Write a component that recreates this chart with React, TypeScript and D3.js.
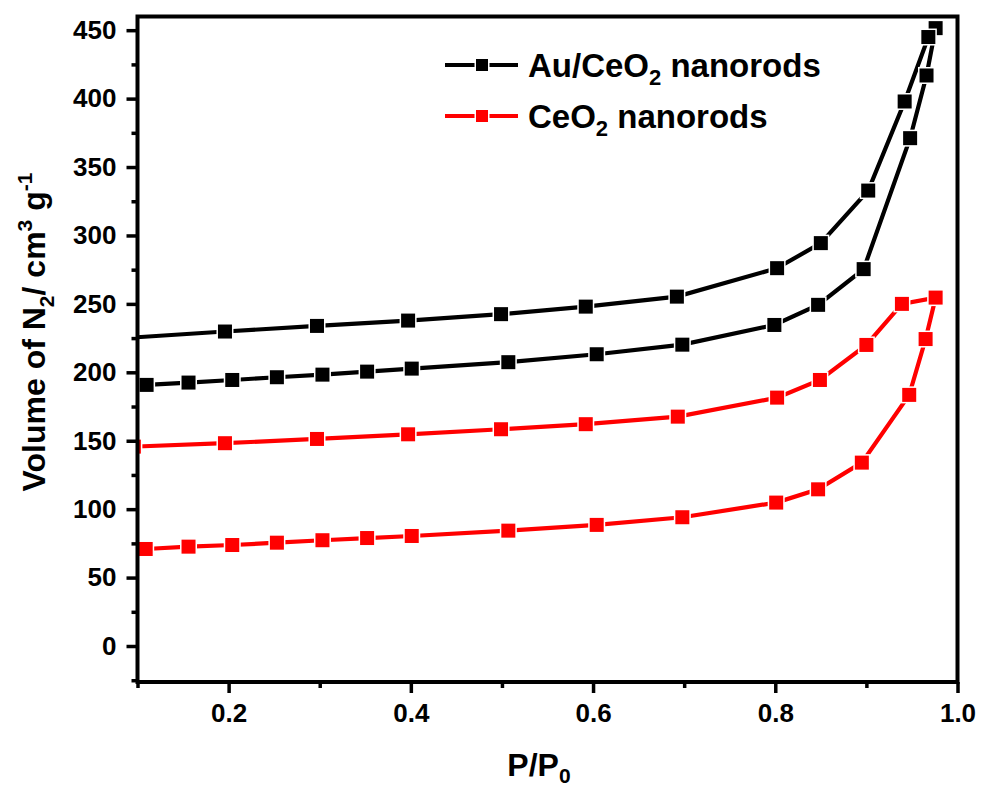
import { useEffect, useRef } from 'react';
import * as d3 from 'd3';

// Au/CeO2 nanorods - adsorption then desorption branch
const auAdsX = [0.11, 0.156, 0.204, 0.253, 0.303, 0.352, 0.401, 0.507, 0.604, 0.698, 0.799, 0.847, 0.897, 0.948, 0.966, 0.976];
const auAdsY = [190.8, 192.5, 194.4, 196.4, 198.3, 200.5, 202.7, 207.4, 213.2, 220.2, 234.6, 249.3, 275.4, 371.1, 416.9, 451.5];
const auDesX = [0.968, 0.942, 0.902, 0.85, 0.802, 0.692, 0.592, 0.499, 0.397, 0.297, 0.196, 0.09];
const auDesY = [445.0, 397.9, 332.8, 294.4, 276.1, 255.3, 248.0, 242.5, 237.8, 233.9, 229.8, 225.2];

// CeO2 nanorods
const ceAdsX = [0.109, 0.156, 0.204, 0.253, 0.303, 0.352, 0.401, 0.507, 0.604, 0.698, 0.801, 0.847, 0.895, 0.947, 0.965, 0.976];
const ceAdsY = [70.9, 72.6, 73.8, 75.5, 77.3, 78.9, 80.4, 84.3, 88.5, 94.1, 104.8, 114.5, 134.0, 183.5, 224.3, 254.6];
const ceDesX = [0.939, 0.9, 0.849, 0.802, 0.693, 0.592, 0.499, 0.397, 0.297, 0.196, 0.096];
const ceDesY = [250.0, 220.0, 194.4, 181.5, 167.6, 162.1, 158.4, 154.7, 151.3, 148.2, 145.7];

const xTicks = [0.2, 0.4, 0.6, 0.8, 1.0];
const xMinor = [0.1, 0.3, 0.5, 0.7, 0.9];
const yTicks = [0, 50, 100, 150, 200, 250, 300, 350, 400, 450];
const yMinor = [-25, 25, 75, 125, 175, 225, 275, 325, 375, 425];

const FONT = 'Arial, "Liberation Sans", sans-serif';

export default function App() {
    const ref = useRef(null);

    useEffect(() => {
        const svg = d3.select(ref.current);
        svg.selectAll('*').remove();

        const [left, right, top, bottom] = [137.5, 957.5, 16.5, 682];

        const x = d3.scaleLinear().domain([0.1, 1.0]).range([left, right]);
        const y = d3.scaleLinear().domain([-26.3, 460]).range([bottom, top]);

        svg.append('defs')
            .append('clipPath')
            .attr('id', 'plot-clip')
            .append('rect')
            .attr('x', left)
            .attr('y', top)
            .attr('width', right - left)
            .attr('height', bottom - top);

        // series
        const series = [
            { xs: auAdsX.concat(auDesX), ys: auAdsY.concat(auDesY), color: '#000000' },
            { xs: ceAdsX.concat(ceDesX), ys: ceAdsY.concat(ceDesY), color: '#ff0000' }
        ];

        const plot = svg.append('g').attr('clip-path', 'url(#plot-clip)');
        const line = d3
            .line()
            .x((d) => x(d[0]))
            .y((d) => y(d[1]));

        series.forEach((s) => {
            const pts = s.xs.map((v, i) => [v, s.ys[i]]);
            plot.append('path')
                .datum(pts)
                .attr('d', line)
                .attr('fill', 'none')
                .attr('stroke', s.color)
                .attr('stroke-width', 4.2);
            const m = 14;
            plot.selectAll(null)
                .data(pts)
                .join('rect')
                .attr('x', (d) => x(d[0]) - m / 2)
                .attr('y', (d) => y(d[1]) - m / 2)
                .attr('width', m)
                .attr('height', m)
                .attr('fill', s.color)
                .attr('stroke', '#ffffff')
                .attr('stroke-width', 3)
                .style('paint-order', 'stroke');
        });

        // axes
        const xAxis = d3.axisBottom(x).tickValues(xTicks).tickSize(11).tickPadding(11).tickFormat(d3.format('.1f'));
        const xMinorAxis = d3.axisBottom(x).tickValues(xMinor).tickSize(6).tickFormat(() => '');
        const yAxis = d3.axisLeft(y).tickValues(yTicks).tickSize(11).tickPadding(10).tickFormat(d3.format('d'));
        const yMinorAxis = d3.axisLeft(y).tickValues(yMinor).tickSize(6).tickFormat(() => '');

        const styleAxis = (g) => {
            g.select('.domain').remove();
            g.selectAll('.tick line').attr('stroke', '#000').attr('stroke-width', 3.5);
            g.selectAll('.tick text')
                .attr('fill', '#000')
                .style('font-family', FONT)
                .style('font-weight', 'bold')
                .style('font-size', '26px');
        };

        svg.append('g').attr('transform', `translate(0,${bottom})`).call(xMinorAxis).call(styleAxis);
        svg.append('g').attr('transform', `translate(0,${bottom})`).call(xAxis).call(styleAxis);
        svg.append('g').attr('transform', `translate(${left},0)`).call(yMinorAxis).call(styleAxis);
        svg.append('g').attr('transform', `translate(${left},0)`).call(yAxis).call(styleAxis);

        // frame
        svg.append('rect')
            .attr('x', left)
            .attr('y', top)
            .attr('width', right - left)
            .attr('height', bottom - top)
            .attr('fill', 'none')
            .attr('stroke', '#000')
            .attr('stroke-width', 4);

        // axis titles
        const xt = svg.append('text')
            .attr('x', 539)
            .attr('y', 776)
            .attr('text-anchor', 'middle')
            .style('font-family', FONT)
            .style('font-weight', 'bold')
            .style('font-size', '32px');
        xt.append('tspan').text('P/P');
        xt.append('tspan').attr('dy', 7).style('font-size', '21px').text('0');

        const yt = svg.append('text')
            .attr('transform', `translate(45,332) rotate(-90)`)
            .attr('text-anchor', 'middle')
            .style('font-family', FONT)
            .style('font-weight', 'bold')
            .style('font-size', '32px');
        yt.append('tspan').text('Volume of N');
        yt.append('tspan').attr('dy', 9).style('font-size', '21px').text('2');
        yt.append('tspan').attr('dy', -9).text('/ cm');
        yt.append('tspan').attr('dy', -13).style('font-size', '21px').text('3');
        yt.append('tspan').attr('dy', 13).text(' g');
        yt.append('tspan').attr('dy', -13).style('font-size', '21px').text('-1');

        // legend
        const legend = [
            { label: 'Au/CeO', rest: ' nanorods', color: '#000000', yy: 65 },
            { label: 'CeO', rest: ' nanorods', color: '#ff0000', yy: 116 }
        ];
        legend.forEach((l) => {
            const g = svg.append('g');
            g.append('line')
                .attr('x1', 445)
                .attr('x2', 518)
                .attr('y1', l.yy)
                .attr('y2', l.yy)
                .attr('stroke', l.color)
                .attr('stroke-width', 4);
            g.append('rect')
                .attr('x', 476)
                .attr('y', l.yy - 6)
                .attr('width', 12)
                .attr('height', 12)
                .attr('fill', l.color)
                .attr('stroke', '#fff')
                .attr('stroke-width', 3)
                .style('paint-order', 'stroke');
            const t = g.append('text')
                .attr('x', 528)
                .attr('y', l.yy + 12)
                .style('font-family', FONT)
                .style('font-weight', 'bold')
                .style('font-size', '33px');
            t.append('tspan').text(l.label);
            t.append('tspan').attr('dy', 8).style('font-size', '22px').text('2');
            t.append('tspan').attr('dy', -8).text(l.rest);
        });
    }, []);

    return (
        <svg
            ref={ref}
            width={982}
            height={789}
            style={{ position: 'absolute', left: 0, top: 0, background: '#fff' }}
        />
    );
}
